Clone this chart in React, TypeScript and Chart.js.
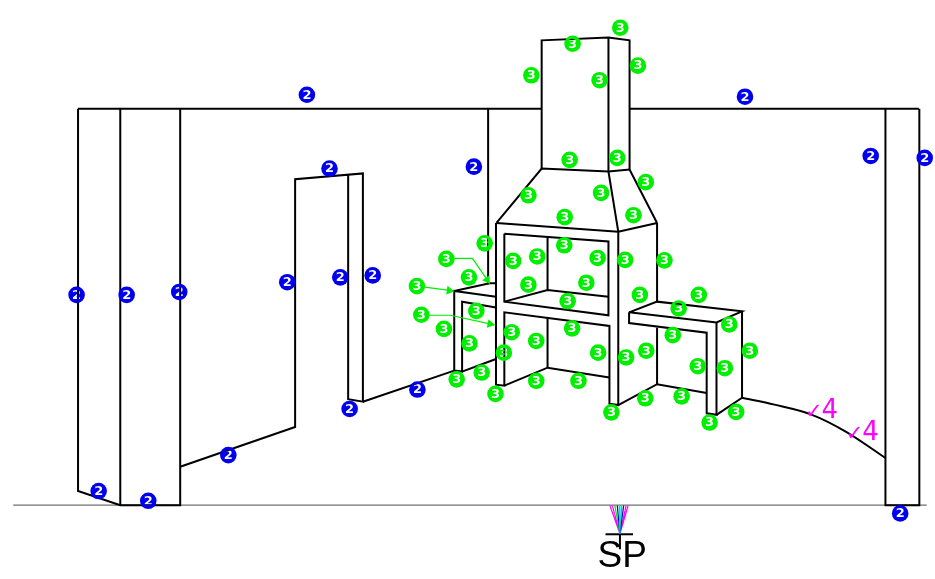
import React, { useEffect, useRef } from "react";
import { Chart, registerables } from "chart.js";

Chart.register(...registerables);

type P = [number, number];

const WIDTH = 935;
const HEIGHT = 579;

const greenMarks: P[] = [
  [623, 20], [574.5, 36.5], [641, 59], [532.5, 69], [602, 74], [571.5, 156], [620, 154],
  [649, 179], [603.5, 190], [529.5, 192.5], [636.5, 213], [566.5, 215], [485, 242],
  [446, 258], [514, 260], [538.5, 255.5], [566, 244], [600, 257], [628, 259], [668, 259.5],
  [469, 277], [416, 286], [529.5, 284.5], [588.5, 282.5], [643, 295], [703, 295],
  [569.5, 301.5], [682.5, 309], [476.5, 311.5], [420.5, 315.5], [734, 325.5], [443.5, 330],
  [574, 329.5], [676.5, 336.5], [512.5, 333.5], [537.5, 342.5], [469.5, 345], [504.5, 354.5],
  [600.5, 354.5], [629, 359.5], [649.5, 352.5], [755, 352.5], [702, 368.5], [729.5, 370.5],
  [482, 375], [456.5, 382], [537.5, 383.5], [580.5, 383.5], [496, 397], [648.5, 401.5],
  [685.5, 399.5], [614, 416], [741, 415.5], [714, 426.5],
];
const blueMarks: P[] = [
  [304, 89], [750, 91], [878, 152], [933, 154], [327, 165], [474, 163], [69.5, 295],
  [120.5, 295], [174, 292], [284, 282], [338, 277], [371, 275], [347.5, 412.5], [416.5, 392.5],
  [224, 460], [92, 497], [142.5, 507], [908, 520],
];
const greenDigit = "3";
const blueDigit = "2";

const ground: P[] = [[5, 511.5], [935, 511.5]];

const wallTopLeft: P[] = [[71, 103.5], [543, 103.5]];
const wallTopRight: P[] = [[632, 103.5], [927, 103.5]];
const leftPillar: P[] = [[71, 103.5], [71, 497], [114, 511.5], [175, 511.5], [175, 103.5]];
const leftPillarInner: P[] = [[114, 103.5], [114, 511.5]];
const doorFloor: P[] = [[175, 472], [292, 431], [292, 176], [361, 170], [361, 405], [346, 402.5], [346, 172]];
const floorToBench: P[] = [[361, 405], [454, 373]];
const backWallEdge: P[] = [[488.5, 103.5], [488.5, 284]];
const rightPillar: P[] = [[893, 103.5], [893, 511.5], [927.5, 511.5], [927.5, 103.5]];
const floorCurve: P[] = [[747, 401], [780, 408], [817, 418], [853, 436], [893, 463]];

const chimneyOutline: P[] = [[543, 165], [543, 33], [611, 30], [632.5, 33], [632.5, 166]];
const chimneyEdge: P[] = [[611, 30], [611, 168]];
const hoodLeft: P[] = [[497, 221], [543, 165], [611, 168], [632.5, 166], [660.5, 221]];
const hoodEdge: P[] = [[611, 168], [621, 230]];
const mantel: P[] = [[497, 221], [621, 230], [660.5, 221]];
const frontLeft: P[] = [[496.5, 221], [496.5, 387.5], [505, 388.5], [505, 313], [612, 327], [612, 407], [621, 408.5], [621, 230]];
const upperOpening: P[] = [[505, 232], [611, 240], [611, 316], [505, 302], [505, 232]];
const upperBack: P[] = [[549, 235], [549, 290]];
const upperShelf: P[] = [[505, 302], [549, 290], [611, 297]];
const lowerBack: P[] = [[549, 319], [549, 370]];
const lowerFloor: P[] = [[505, 388.5], [549, 370], [612, 380]];
const sideFloor: P[] = [[621, 408.5], [660.5, 387], [711, 396]];
const sideUpper: P[] = [[660.5, 221], [660.5, 303]];
const sideLower: P[] = [[660.5, 329], [660.5, 387]];

const rightBenchTop: P[] = [[632, 313], [660.5, 302], [747, 312], [721, 323.5], [632, 313]];
const rightBenchFront: P[] = [[632, 313], [632, 324], [711, 334], [711, 417], [721, 418.5], [721, 323.5]];
const rightBenchSide: P[] = [[747, 312], [747, 401], [721, 418.5]];

const leftBenchTop: P[] = [[454, 291], [490, 283], [496.5, 283]];
const leftBenchFront: P[] = [[496.5, 297], [454, 291], [454, 373], [462, 374], [462, 302], [496.5, 308]];
const leftBenchFloor: P[] = [[462, 374], [496.5, 361]];

const leaderOne: P[] = [[453, 257.5], [472.5, 257.5], [490, 283]];
const leaderTwo: P[] = [[424, 287], [453, 291]];
const leaderThree: P[] = [[428, 316], [450, 316], [495, 326]];
const arrowTips: P[] = [[487.5, 279.5], [449, 290.5], [490.5, 325]];
const arrowAngles = [146, 98, 102];

const fanApex: P = [622.7, 541];
const fanMagenta = [612.5, 615, 629, 631];
const fanGreen = [617.5, 624.5];
const fanBlue = [620, 626.5];
const fanCyan = [622];
const sightBar: P[] = [[608, 541.5], [636, 541.5]];
const sightStem: P[] = [[622.7, 541], [622.7, 557]];

const stationLabel = "SP";
const stationAnchor: P = [625, 575];
const checkGlyph = "✓";
const checkDigit = "4";
const checkAnchors: P[] = [[811, 422], [852.5, 444]];

const fanRays = (xs: number[]) => xs.flatMap((x) => [{ x, y: 512 }, { x: fanApex[0], y: fanApex[1] }, { x: NaN, y: NaN }]);
const pts = (a: P[]) => a.map(([x, y]) => ({ x, y }));

const blackLines = [
  wallTopLeft, wallTopRight, leftPillar, leftPillarInner, doorFloor, floorToBench, backWallEdge,
  rightPillar, chimneyOutline, chimneyEdge, hoodLeft, hoodEdge, mantel, frontLeft, upperOpening,
  upperBack, upperShelf, lowerBack, lowerFloor, sideFloor, sideUpper, sideLower, rightBenchTop,
  rightBenchFront, rightBenchSide, leftBenchTop, leftBenchFront, leftBenchFloor, sightBar, sightStem,
];

const line = (data: any[], color: string, width: number, extra: any = {}) => ({
  data,
  showLine: true,
  spanGaps: false,
  borderColor: color,
  backgroundColor: color,
  borderWidth: width,
  pointRadius: 0,
  pointHoverRadius: 0,
  tension: 0,
  clip: false,
  order: 1,
  ...extra,
});

const marks = (data: P[], color: string, digit: string) => ({
  data: pts(data),
  showLine: false,
  pointRadius: 8.3,
  pointHoverRadius: 8.3,
  pointBorderWidth: 0,
  pointBackgroundColor: color,
  clip: false,
  order: 2,
  digit,
});

const cutoutAndLayers = {
  id: "cutoutAndLayers",
  beforeDatasetDraw(chart: any, args: any) {
    const ds = chart.data.datasets[args.index];
    if (!ds.digit) {
      chart.ctx.save();
      chart.ctx.globalCompositeOperation = "destination-over";
    }
  },
  afterDatasetDraw(chart: any, args: any) {
    const ds = chart.data.datasets[args.index];
    const ctx = chart.ctx;
    if (!ds.digit) {
      ctx.restore();
      return;
    }
    ctx.save();
    ctx.globalCompositeOperation = "destination-out";
    ctx.font = "bold 13px 'DejaVu Sans'";
    ctx.textAlign = "center";
    ctx.textBaseline = "middle";
    ctx.fillStyle = "#000";
    ds.data.forEach((p: any) => {
      ctx.fillText(ds.digit, chart.scales.x.getPixelForValue(p.x), chart.scales.y.getPixelForValue(p.y) + 0.5);
    });
    ctx.restore();
  },
  afterDraw(chart: any) {
    const ctx = chart.ctx;
    const { x, y } = chart.scales;
    ctx.save();
    ctx.textBaseline = "alphabetic";
    ctx.textAlign = "center";
    ctx.fillStyle = "#000";
    ctx.font = "37px 'Liberation Sans'";
    ctx.fillText(stationLabel, x.getPixelForValue(stationAnchor[0]), y.getPixelForValue(stationAnchor[1]));
    ctx.textAlign = "left";
    ctx.fillStyle = "#ff00ff";
    checkAnchors.forEach(([cx, cy]) => {
      ctx.font = "21px 'DejaVu Sans'";
      ctx.fillText(checkGlyph, x.getPixelForValue(cx), y.getPixelForValue(cy));
      ctx.font = "26px 'DejaVu Sans'";
      ctx.fillText(checkDigit, x.getPixelForValue(cx + 17), y.getPixelForValue(cy));
    });
    ctx.restore();
  },
};

export default function App() {
  const ref = useRef<HTMLCanvasElement | null>(null);
  useEffect(() => {
    const chart = new Chart(ref.current as HTMLCanvasElement, {
      type: "scatter",
      data: {
        datasets: [
          marks(greenMarks, "#00ee00", greenDigit),
          marks(blueMarks, "#0000ee", blueDigit),
          line(pts(ground), "#6e6e6e", 1.2),
          ...blackLines.map((l) => line(pts(l), "#000000", 2)),
          line(pts(floorCurve), "#000000", 2, { tension: 0.4, cubicInterpolationMode: "monotone" }),
          line(pts(leaderOne), "#00ee00", 1.2),
          line(pts(leaderTwo), "#00ee00", 1.2),
          line(pts(leaderThree), "#00ee00", 1.2),
          {
            data: pts(arrowTips),
            showLine: false,
            pointStyle: "triangle",
            pointRadius: 5,
            pointHoverRadius: 5,
            pointRotation: arrowAngles,
            pointBackgroundColor: "#00ee00",
            pointBorderColor: "#00ee00",
            pointBorderWidth: 0,
            clip: false,
            order: 1,
          },
          line(fanRays(fanMagenta), "#ff00ff", 1.2),
          line(fanRays(fanGreen), "#00ee00", 1.2),
          line(fanRays(fanBlue), "#0000ee", 1.2),
          line(fanRays(fanCyan), "#00dddd", 1.2),
        ] as any,
      },
      options: {
        animation: false,
        responsive: false,
        devicePixelRatio: 1,
        events: [],
        layout: { padding: 0 },
        plugins: { legend: { display: false }, tooltip: { enabled: false }, title: { display: false } },
        scales: {
          x: { type: "linear", min: 0, max: WIDTH, display: false },
          y: { type: "linear", min: 0, max: HEIGHT, reverse: true, display: false },
        },
      } as any,
      plugins: [cutoutAndLayers] as any,
    });
    return () => chart.destroy();
  }, []);
  return (
    <div style={{ position: "absolute", left: 0, top: 0, width: WIDTH, height: HEIGHT, overflow: "hidden", background: "#fff" }}>
      <canvas ref={ref} width={WIDTH} height={HEIGHT} style={{ display: "block", width: WIDTH, height: HEIGHT }} />
    </div>
  );
}
